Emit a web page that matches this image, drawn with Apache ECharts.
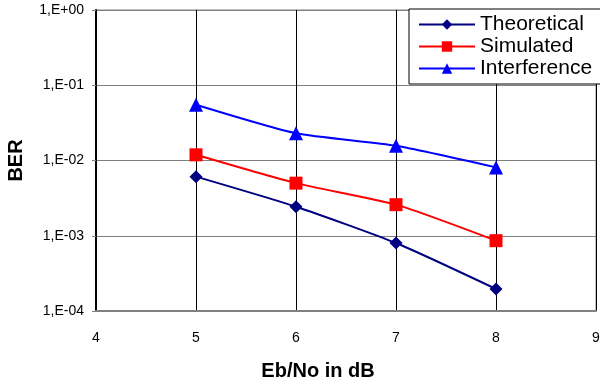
<!DOCTYPE html>
<html>
<head>
<meta charset="utf-8">
<script src="https://cdn.jsdelivr.net/npm/echarts@6/dist/echarts.min.js"></script>
<style>html,body{margin:0;padding:0;background:#fff}#c{width:600px;height:380px}</style>
</head>
<body>
<div id="c"></div>
<script>
const xValues = [5, 6, 7, 8];
const theoretical = [6.1e-3, 2.43e-3, 8.0e-4, 1.96e-4];
const simulated = [1.19e-2, 5.0e-3, 2.59e-3, 8.6e-4];
const interference = [5.5e-2, 2.3e-2, 1.57e-2, 8.1e-3];
const seriesNames = ['Theoretical', 'Simulated', 'Interference'];
const yTickLabels = ['1,E-04', '1,E-03', '1,E-02', '1,E-01', '1,E+00'];
const xTickLabels = ['4', '5', '6', '7', '8', '9'];

const font = '"Liberation Sans", Arial, sans-serif';
const pairs = arr => xValues.map((x, i) => [x, arr[i]]);

const chart = echarts.init(document.getElementById('c'), null, {renderer: 'canvas'});
chart.setOption({
  animation: false,
  backgroundColor: '#fff',
  grid: {left: 96, right: 4, top: 10, bottom: 69, show: true, borderColor: '#808080', borderWidth: 1,
         containLabel: false, outerBoundsMode: 'none'},
  legend: {
    left: 409, top: 9,
    orient: 'vertical',
    padding: [5, 30, 5, 9],
    borderColor: '#000', borderWidth: 1,
    backgroundColor: '#fff',
    itemWidth: 56, itemHeight: 13, itemGap: 1,
    textStyle: {fontFamily: font, fontSize: 21, color: '#000', lineHeight: 21},
    data: seriesNames
  },
  xAxis: {
    type: 'value', min: 4, max: 9, interval: 1,
    name: 'Eb/No in dB', nameLocation: 'middle', nameGap: 50,
    nameTextStyle: {fontFamily: font, fontSize: 20, fontWeight: 'bold', color: '#000', padding: [0, 56, 0, 0]},
    axisLine: {show: true, lineStyle: {color: '#808080', width: 2}},
    axisTick: {show: false},
    axisLabel: {fontFamily: font, fontSize: 14, color: '#000', margin: 20,
      formatter: v => xTickLabels[Math.round(v) - 4]},
    splitLine: {show: true, lineStyle: {color: '#000', width: 1}}
  },
  yAxis: {
    type: 'log', logBase: 10, min: 1e-4, max: 1,
    name: 'BER', nameLocation: 'middle', nameGap: 70,
    nameTextStyle: {fontFamily: font, fontSize: 20, fontWeight: 'bold', color: '#000'},
    axisLine: {show: true, lineStyle: {color: '#000', width: 2}},
    axisTick: {show: true, inside: false, length: 4, lineStyle: {color: '#808080'}},
    axisLabel: {fontFamily: font, fontSize: 14, color: '#000', margin: 12,
      formatter: v => yTickLabels[Math.round(Math.log10(v)) + 4]},
    splitLine: {show: true, lineStyle: {color: '#808080', width: 1}}
  },
  series: [
    {name: seriesNames[0], type: 'line', data: pairs(theoretical), smooth: 0.2,
     symbol: 'diamond', symbolSize: 13,
     itemStyle: {color: '#000080'}, lineStyle: {color: '#000080', width: 2}},
    {name: seriesNames[1], type: 'line', data: pairs(simulated), smooth: 0.2,
     symbol: 'rect', symbolSize: 13,
     itemStyle: {color: '#FF0000'}, lineStyle: {color: '#FF0000', width: 2}},
    {name: seriesNames[2], type: 'line', data: pairs(interference), smooth: 0.2,
     symbol: 'triangle', symbolSize: 14,
     itemStyle: {color: '#0000FF'}, lineStyle: {color: '#0000FF', width: 2}}
  ]
});
</script>
</body>
</html>
